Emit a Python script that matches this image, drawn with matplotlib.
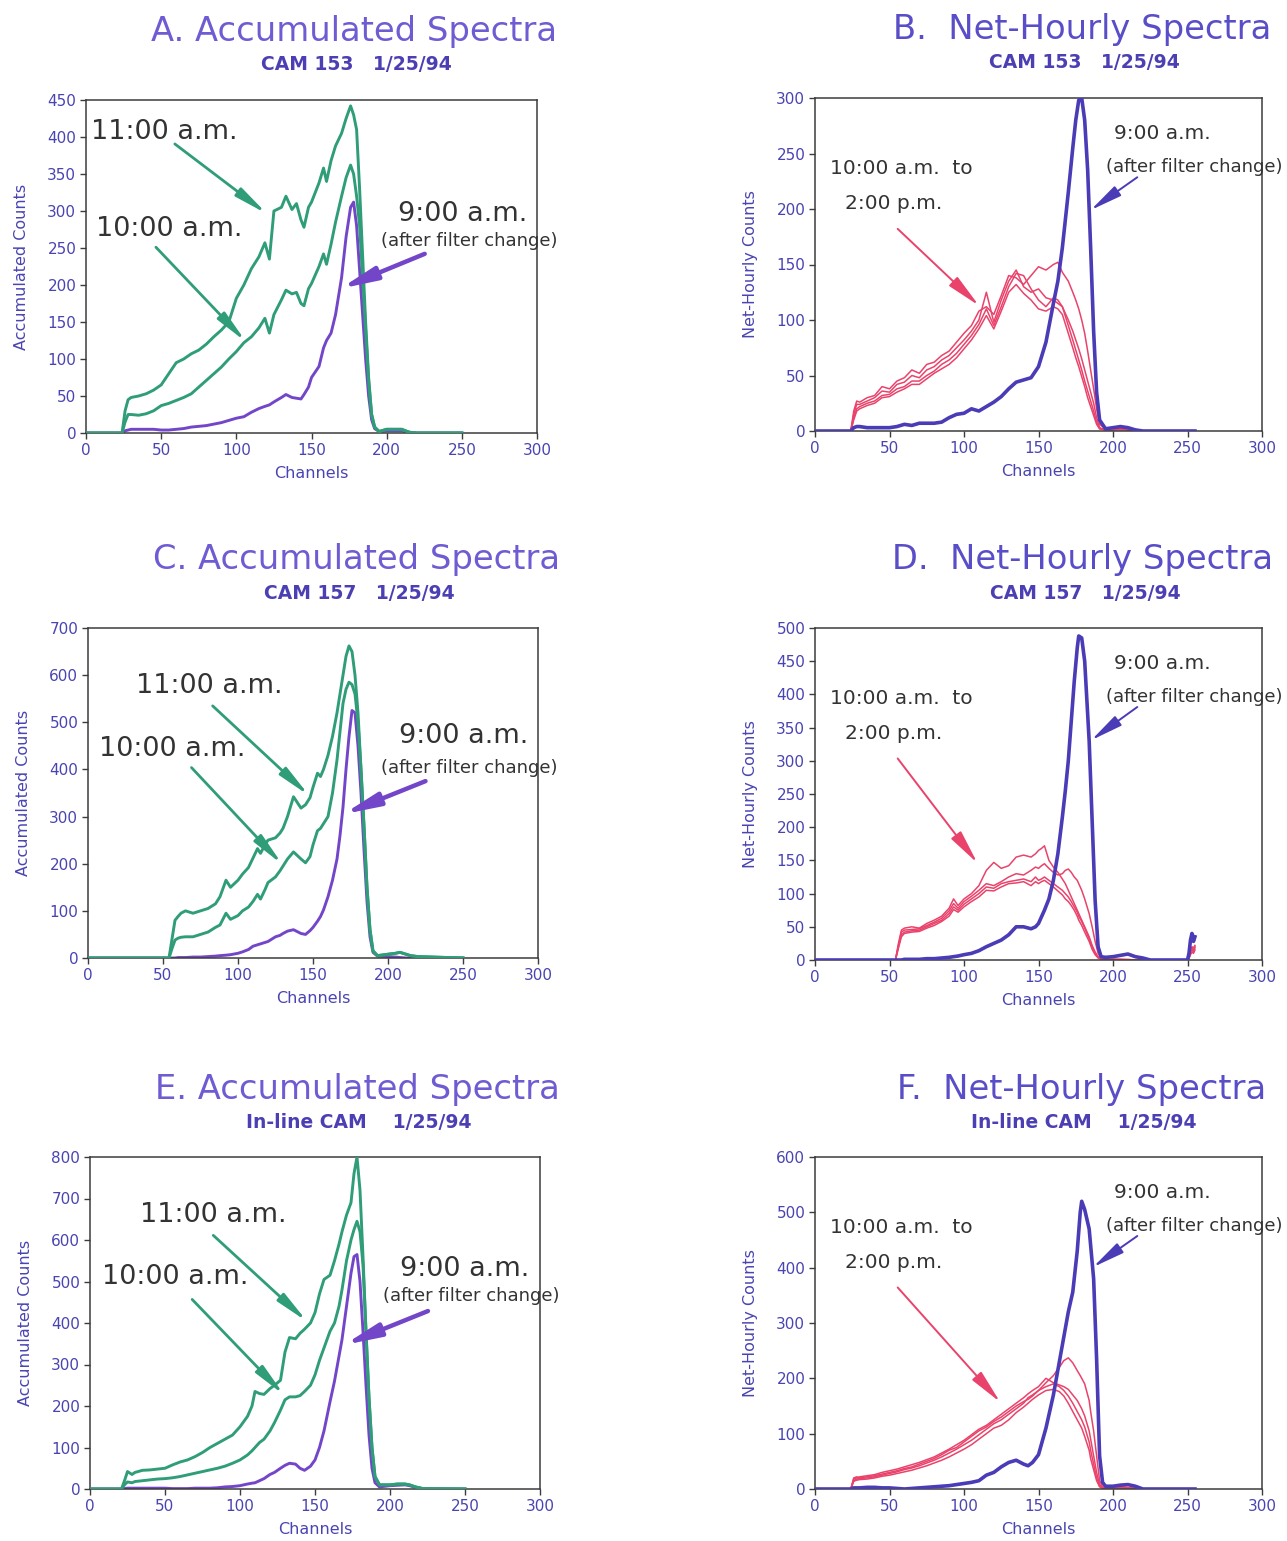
import matplotlib
matplotlib.use("Agg")
import matplotlib.pyplot as plt

plt.rcParams['font.family'] = ['DejaVu Sans']

GREEN = "#2f9d78"
VIOLET = "#7346c9"
BLUE = "#4a3bb6"
PINK = "#e9436b"
TITLE_ACC = "#6e5cd2"
TITLE_NET = "#5a4ec8"
SUBTITLE = "#4c3fb4"
TICK = "#4a44b2"
NOTE = "#333333"
FRAME = "#3c3c3c"

# ---- A. accumulated spectra, CAM 153 ----
ch_a = [0, 24, 26, 28, 30, 35, 40, 45, 50, 55, 60, 65, 70, 75, 80, 85, 90, 95,
        100, 105, 110, 115, 119, 122, 125, 130, 133, 137, 140, 143, 145, 148,
        150, 155, 158, 160, 163, 166, 170, 173, 176, 178, 180, 182, 184, 186,
        188, 190, 192, 195, 200, 205, 210, 215, 220, 250]
a_11am = [0, 0, 30, 45, 48, 50, 53, 58, 65, 80, 95, 100, 107, 112, 120, 130, 139,
          150, 182, 200, 222, 238, 257, 235, 300, 305, 320, 302, 310, 288, 278,
          305, 312, 338, 358, 340, 368, 388, 405, 425, 442, 430, 410, 330, 240,
          150, 75, 25, 8, 2, 5, 5, 5, 1, 0, 0]
a_10am = [0, 0, 15, 25, 25, 24, 26, 30, 37, 40, 44, 48, 53, 62, 71, 80, 89, 100,
          110, 122, 130, 142, 155, 135, 160, 180, 193, 188, 190, 175, 172, 195,
          202, 225, 242, 228, 255, 285, 320, 345, 362, 350, 320, 280, 210, 140,
          70, 25, 8, 2, 5, 5, 5, 1, 0, 0]
a_9am = [0, 0, 3, 4, 5, 5, 5, 5, 4, 4, 5, 6, 8, 9, 10, 12, 14, 17, 20, 22, 28,
         33, 36, 38, 42, 48, 52, 48, 47, 46, 52, 62, 75, 90, 115, 125, 135, 160,
         210, 265, 305, 312, 280, 220, 160, 100, 50, 18, 6, 2, 3, 3, 3, 1, 0, 0]

# ---- B. net-hourly spectra, CAM 153 ----
ch_b = [0, 24, 26, 28, 30, 35, 40, 45, 50, 55, 60, 65, 70, 75, 80, 85, 90, 95,
        100, 105, 110, 115, 120, 125, 130, 135, 140, 145, 150, 155, 160, 163,
        166, 170, 173, 175, 177, 179, 181, 183, 185, 187, 189, 191, 195, 200,
        205, 210, 215, 220, 255]
b_9am = [0, 0, 3, 4, 4, 3, 3, 3, 3, 4, 6, 5, 7, 7, 7, 8, 12, 15, 16, 20, 18, 22,
         26, 31, 38, 44, 46, 48, 58, 80, 115, 135, 165, 215, 255, 280, 298, 300,
         280, 235, 165, 90, 35, 10, 2, 3, 4, 3, 1, 0, 0]
b_net1 = [0, 0, 18, 27, 26, 30, 32, 40, 38, 45, 48, 55, 52, 60, 62, 68, 72, 80,
          88, 95, 108, 112, 105, 122, 140, 138, 132, 140, 148, 145, 150, 152, 143,
          135, 125, 118, 110, 100, 88, 72, 55, 38, 20, 6, 2, 2, 2, 1, 0, 0, 0]
b_net2 = [0, 0, 15, 24, 24, 27, 30, 36, 35, 42, 44, 50, 48, 55, 58, 64, 68, 75,
          82, 90, 100, 125, 98, 118, 135, 145, 130, 125, 128, 120, 118, 115, 112,
          100, 90, 82, 74, 65, 55, 45, 35, 25, 12, 3, 1, 2, 3, 2, 0, 0, 0]
b_net3 = [0, 0, 12, 20, 22, 25, 27, 32, 33, 38, 40, 45, 45, 50, 54, 60, 64, 70,
          78, 86, 96, 110, 95, 112, 130, 142, 140, 128, 118, 112, 120, 118, 112,
          95, 82, 73, 64, 55, 45, 36, 27, 18, 8, 2, 1, 1, 2, 1, 0, 0, 0]
b_net4 = [0, 0, 10, 18, 20, 23, 25, 30, 31, 35, 38, 42, 42, 47, 52, 56, 60, 66,
          74, 82, 92, 104, 92, 108, 125, 132, 124, 118, 110, 108, 112, 110, 105,
          88, 75, 66, 58, 49, 40, 30, 22, 14, 6, 2, 1, 1, 1, 1, 0, 0, 0]

# ---- C. accumulated spectra, CAM 157 ----
ch_c = [0, 54, 56, 58, 60, 62, 65, 70, 75, 80, 85, 88, 92, 95, 100, 103, 107,
        110, 113, 115, 118, 120, 125, 128, 130, 133, 137, 142, 145, 148, 150,
        153, 155, 157, 160, 163, 166, 168, 170, 172, 174, 176, 178, 180, 182,
        184, 186, 188, 190, 193, 200, 205, 208, 212, 215, 220, 230, 240, 250]
c_11am = [0, 0, 40, 80, 88, 95, 100, 95, 100, 105, 115, 130, 165, 150, 165, 178,
          192, 212, 232, 222, 240, 250, 255, 265, 275, 300, 342, 318, 325, 340,
          362, 392, 385, 400, 430, 470, 520, 560, 600, 640, 662, 650, 600, 520,
          400, 280, 150, 60, 15, 5, 8, 10, 12, 8, 5, 3, 2, 1, 0]
c_10am = [0, 0, 20, 38, 42, 44, 45, 45, 50, 55, 65, 70, 95, 82, 90, 100, 108,
          120, 135, 125, 145, 160, 172, 185, 195, 210, 225, 210, 202, 215, 240,
          270, 275, 285, 300, 350, 420, 480, 540, 570, 585, 580, 560, 500, 400,
          280, 150, 60, 15, 5, 8, 10, 12, 8, 5, 3, 2, 1, 0]
c_9am = [0, 0, 0, 0, 1, 1, 1, 2, 2, 3, 4, 5, 6, 7, 10, 13, 18, 25, 28, 30, 33,
         35, 45, 48, 52, 57, 60, 52, 50, 58, 65, 78, 88, 102, 130, 165, 210, 260,
         320, 400, 470, 525, 520, 450, 350, 230, 120, 45, 12, 4, 3, 2, 1, 0, 0,
         0, 0, 0, 0]

# ---- D. net-hourly spectra, CAM 157 ----
ch_d = [0, 54, 56, 58, 60, 65, 70, 75, 80, 85, 90, 93, 96, 100, 105, 110, 115,
        120, 125, 130, 135, 140, 145, 148, 150, 152, 154, 157, 160, 163, 166,
        168, 170, 172, 174, 176, 177, 179, 181, 184, 186, 188, 190, 192, 195,
        200, 205, 210, 215, 220, 225, 250, 251, 252, 253, 254, 255]
d_9am = [0, 0, 0, 0, 1, 1, 1, 2, 2, 3, 4, 5, 6, 8, 10, 14, 20, 25, 30, 38, 50,
         50, 47, 50, 55, 65, 75, 92, 120, 160, 215, 255, 300, 360, 420, 470, 488,
         485, 450, 330, 210, 90, 20, 5, 4, 5, 7, 9, 5, 3, 0, 0, 10, 30, 40, 28, 35]
d_net1 = [0, 0, 25, 45, 48, 50, 48, 55, 60, 66, 78, 92, 82, 92, 100, 112, 135,
          147, 138, 142, 155, 158, 155, 160, 165, 168, 172, 150, 140, 132, 122,
          115, 105, 95, 85, 75, 70, 60, 50, 35, 22, 12, 5, 2, 1, 1, 1, 1, 0, 0, 0,
          0, 5, 15, 20, 18, 22]
d_net2 = [0, 0, 22, 42, 45, 46, 47, 52, 57, 63, 74, 85, 78, 88, 96, 105, 115,
          112, 118, 125, 130, 128, 135, 140, 138, 142, 145, 138, 132, 128, 130,
          135, 137, 132, 125, 120, 115, 105, 92, 70, 50, 28, 10, 3, 1, 1, 1, 0, 0,
          0, 0, 0, 4, 12, 18, 15, 20]
d_net3 = [0, 0, 20, 38, 42, 44, 45, 50, 55, 60, 70, 80, 75, 84, 92, 100, 110,
          108, 115, 118, 120, 122, 118, 125, 120, 122, 125, 120, 115, 110, 105,
          100, 95, 88, 80, 72, 66, 58, 48, 32, 20, 10, 4, 2, 1, 1, 0, 0, 0, 0, 0,
          0, 3, 10, 15, 12, 18]
d_net4 = [0, 0, 18, 35, 40, 42, 43, 48, 52, 58, 66, 76, 72, 80, 88, 95, 105,
          104, 110, 115, 116, 118, 112, 118, 115, 118, 120, 115, 110, 104, 98, 92,
          88, 82, 75, 66, 60, 52, 42, 28, 16, 8, 3, 1, 0, 0, 0, 0, 0, 0, 0, 0, 2,
          8, 12, 10, 15]

# ---- E. accumulated spectra, in-line CAM ----
ch_e = [0, 21, 23, 25, 28, 30, 35, 40, 45, 50, 55, 60, 65, 70, 75, 80, 85, 90,
        95, 100, 105, 108, 110, 113, 116, 120, 123, 127, 130, 133, 137, 140,
        143, 147, 150, 153, 156, 158, 160, 163, 166, 168, 171, 174, 176, 178,
        180, 182, 184, 186, 188, 190, 193, 200, 205, 210, 213, 217, 222, 250]
e_11am = [0, 0, 20, 42, 35, 40, 45, 46, 48, 50, 58, 65, 70, 78, 88, 100, 110,
          120, 130, 150, 175, 200, 235, 230, 228, 242, 250, 262, 330, 365, 362,
          375, 385, 400, 425, 470, 505, 510, 515, 550, 590, 620, 660, 690, 760,
          800, 720, 560, 380, 220, 100, 30, 10, 10, 12, 12, 10, 5, 1, 0]
e_10am = [0, 0, 10, 17, 15, 18, 20, 22, 24, 25, 27, 30, 34, 38, 42, 46, 50, 55,
          62, 70, 82, 92, 100, 112, 120, 140, 160, 190, 215, 222, 222, 225, 235,
          250, 275, 310, 340, 360, 380, 400, 440, 480, 550, 600, 625, 645, 620,
          540, 380, 220, 100, 30, 10, 10, 12, 12, 10, 5, 1, 0]
e_9am = [0, 0, 1, 2, 2, 2, 2, 2, 2, 2, 1, 1, 1, 2, 2, 2, 3, 5, 6, 8, 12, 14, 15,
         20, 25, 35, 40, 50, 57, 62, 60, 50, 45, 55, 70, 100, 140, 175, 210, 260,
         320, 360, 440, 520, 560, 565, 500, 380, 250, 130, 50, 15, 5, 8, 9, 10, 8,
         4, 0, 0]

# ---- F. net-hourly spectra, in-line CAM ----
ch_f = [0, 24, 26, 28, 30, 35, 40, 45, 50, 55, 60, 65, 70, 75, 80, 85, 90, 95,
        100, 105, 110, 115, 120, 125, 130, 135, 140, 143, 146, 150, 155, 160,
        164, 167, 170, 173, 176, 178, 179, 181, 184, 185, 187, 189, 191, 193,
        195, 200, 205, 210, 215, 220, 255]
f_9am = [0, 0, 2, 2, 2, 3, 3, 2, 2, 1, 0, 1, 2, 3, 4, 5, 6, 8, 10, 12, 15, 25,
         30, 40, 48, 52, 45, 42, 48, 62, 110, 170, 230, 275, 320, 356, 430, 500,
         520, 505, 470, 440, 380, 235, 60, 12, 5, 5, 7, 8, 5, 0, 0]
f_net1 = [0, 0, 20, 22, 20, 22, 24, 27, 30, 33, 37, 40, 45, 50, 55, 62, 70, 75,
          85, 95, 105, 112, 122, 130, 140, 150, 158, 162, 168, 178, 192, 205, 220,
          232, 237, 228, 214, 205, 200, 190, 160, 140, 105, 60, 15, 4, 2, 3, 4, 3,
          1, 0, 0]
f_net2 = [0, 0, 18, 20, 22, 24, 26, 30, 33, 36, 40, 44, 48, 53, 58, 65, 72, 80,
          88, 98, 108, 115, 125, 135, 145, 155, 165, 172, 178, 185, 200, 192, 188,
          185, 180, 170, 160, 150, 145, 132, 105, 90, 60, 30, 8, 3, 2, 3, 3, 2, 1,
          0, 0]
f_net3 = [0, 0, 15, 18, 19, 20, 22, 25, 28, 31, 35, 38, 42, 47, 52, 58, 65, 72,
          80, 88, 98, 108, 118, 125, 135, 145, 155, 165, 170, 178, 185, 190, 185,
          178, 168, 155, 140, 130, 125, 112, 85, 70, 45, 20, 5, 2, 1, 2, 2, 2, 0,
          0, 0]
f_net4 = [0, 0, 14, 16, 17, 18, 20, 23, 25, 28, 31, 34, 38, 42, 47, 52, 58, 65,
          72, 80, 90, 100, 110, 115, 125, 138, 148, 155, 162, 170, 178, 180, 176,
          168, 155, 140, 125, 115, 110, 95, 70, 55, 35, 15, 4, 1, 1, 1, 1, 1, 0,
          0, 0]

W, H = 1287, 1541


def frame(ax, ymax, ystep, ylabel):
    """Axis limits, ticks and labels shared by every panel."""
    ax.set_xlim(0, 300)
    ax.set_ylim(0, ymax)
    ax.set_xticks(range(0, 301, 50))
    ax.set_yticks(range(0, ymax + 1, ystep))
    ax.tick_params(direction='out', length=4, width=1, colors=FRAME,
                   labelcolor=TICK, labelsize=11, pad=3)
    for s in ax.spines.values():
        s.set_color(FRAME)
        s.set_linewidth(1.1)
    ax.set_xlabel('Channels', color=TICK, fontsize=11.5, labelpad=6)
    ax.set_ylabel(ylabel, color=TICK, fontsize=11.5, labelpad=13)


def arrow(ax, tail, tip, color, lw, scale, hl=1.3, hw=0.2):
    ax.annotate('', xy=tip, xycoords='data', xytext=tail,
                textcoords='axes fraction',
                arrowprops=dict(arrowstyle=f'-|>,head_length={hl},head_width={hw}',
                                color=color, lw=lw, mutation_scale=scale,
                                shrinkA=0, shrinkB=0))


def accumulated(ax, ch, late, early, first, ymax, ystep, notes):
    ax.plot(ch, first, color=VIOLET, lw=2.1, zorder=2)
    ax.plot(ch, early, color=GREEN, lw=2.1, zorder=3)
    ax.plot(ch, late, color=GREEN, lw=2.1, zorder=3)
    frame(ax, ymax, ystep, 'Accumulated Counts')

    t11, a11, tip11, t10, a10, tip10, t9, tf, a9, tip9 = notes
    ax.text(*t11, '11:00 a.m.', transform=ax.transAxes, fontsize=19.5,
            color=NOTE, ha='left', va='center')
    ax.text(*t10, '10:00 a.m.', transform=ax.transAxes, fontsize=19.5,
            color=NOTE, ha='left', va='center')
    ax.text(*t9, '9:00 a.m.', transform=ax.transAxes, fontsize=19.5,
            color=NOTE, ha='center', va='center')
    ax.text(*tf, '(after filter change)', transform=ax.transAxes, fontsize=13,
            color=NOTE, ha='center', va='center')
    arrow(ax, a11, tip11, GREEN, 2.0, 15)
    arrow(ax, a10, tip10, GREEN, 2.0, 15)
    arrow(ax, a9, tip9, VIOLET, 3.2, 14, hl=1.5, hw=0.28)


def net_hourly(ax, ch, first, nets, ymax, ystep, pink_tip, blue_tip):
    for n in nets:
        ax.plot(ch, n, color=PINK, lw=1.1, zorder=2)
    ax.plot(ch, first, color=BLUE, lw=2.6, zorder=3)
    frame(ax, ymax, ystep, 'Net-Hourly Counts')

    ax.text(0.776, 0.893, '9:00 a.m.', transform=ax.transAxes, fontsize=14.5,
            color=NOTE, ha='center', va='center')
    ax.text(0.848, 0.792, '(after filter change)', transform=ax.transAxes,
            fontsize=13, color=NOTE, ha='center', va='center')
    ax.text(0.034, 0.787, '10:00 a.m.  to', transform=ax.transAxes,
            fontsize=14.5, color=NOTE, ha='left', va='center')
    ax.text(0.066, 0.682, '2:00 p.m.', transform=ax.transAxes, fontsize=14.5,
            color=NOTE, ha='left', va='center')
    arrow(ax, (0.185, 0.607), pink_tip, PINK, 1.4, 15, hl=1.4, hw=0.25)
    arrow(ax, (0.721, 0.762), blue_tip, BLUE, 1.4, 14, hl=1.4, hw=0.25)


def heading(x, y, title, sub, tcolor):
    fig.text(x / W, 1 - y / H, title, fontsize=24.3, color=tcolor,
             ha='center', va='center')
    fig.text((x + 2) / W, 1 - (y + 33) / H, sub, fontsize=13.5,
             fontweight='bold', color=SUBTITLE, ha='center', va='center')


fig = plt.figure(figsize=(W / 100, H / 100), dpi=100)

ax_a = fig.add_axes([86 / W, 1 - 433 / H, 451 / W, 333 / H])
ax_b = fig.add_axes([815 / W, 1 - 431 / H, 447 / W, 333 / H])
ax_c = fig.add_axes([88 / W, 1 - 958 / H, 450 / W, 330 / H])
ax_d = fig.add_axes([815 / W, 1 - 960 / H, 447 / W, 332 / H])
ax_e = fig.add_axes([90 / W, 1 - 1489 / H, 450 / W, 332 / H])
ax_f = fig.add_axes([815 / W, 1 - 1489 / H, 447 / W, 332 / H])

accumulated(ax_a, ch_a, a_11am, a_10am, a_9am, 450, 50,
            [(0.010, 0.903), (0.197, 0.868), (120.5, 296),
             (0.023, 0.613), (0.155, 0.558), (106.5, 123),
             (0.836, 0.658), (0.849, 0.578), (0.751, 0.538), (169, 195)])
accumulated(ax_c, ch_c, c_11am, c_10am, c_9am, 700, 100,
            [(0.107, 0.825), (0.277, 0.764), (147.6, 344),
             (0.024, 0.633), (0.230, 0.577), (129.7, 198),
             (0.835, 0.673), (0.848, 0.577), (0.750, 0.536), (170.1, 305)])
accumulated(ax_e, ch_e, e_11am, e_10am, e_9am, 800, 100,
            [(0.110, 0.824), (0.274, 0.764), (144.9, 403),
             (0.026, 0.639), (0.227, 0.571), (129.6, 226),
             (0.832, 0.664), (0.848, 0.581), (0.751, 0.536), (169.2, 347)])

net_hourly(ax_b, ch_b, b_9am, [b_net1, b_net2, b_net3, b_net4], 300, 50,
           (110, 113), (185, 199))
net_hourly(ax_d, ch_d, d_9am, [d_net1, d_net2, d_net3, d_net4], 500, 50,
           (109, 146), (185.4, 331))
net_hourly(ax_f, ch_f, f_9am, [f_net1, f_net2, f_net3, f_net4], 600, 100,
           (124.3, 157), (186.6, 401))

heading(354, 32, 'A. Accumulated Spectra', 'CAM 153   1/25/94', TITLE_ACC)
heading(1082, 30, 'B.  Net-Hourly Spectra', 'CAM 153   1/25/94', TITLE_NET)
heading(357, 560, 'C. Accumulated Spectra', 'CAM 157   1/25/94', TITLE_ACC)
heading(1083, 560, 'D.  Net-Hourly Spectra', 'CAM 157   1/25/94', TITLE_NET)
heading(357, 1089, 'E. Accumulated Spectra', 'In-line CAM    1/25/94', TITLE_ACC)
heading(1082, 1089, 'F.  Net-Hourly Spectra', 'In-line CAM    1/25/94', TITLE_NET)

fig.savefig('out.png', dpi=100, facecolor='white')
